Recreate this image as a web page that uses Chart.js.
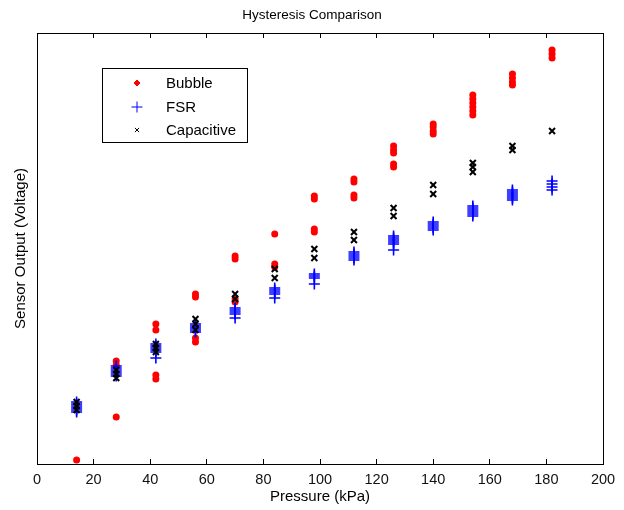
<!DOCTYPE html>
<html>
<head>
<meta charset="utf-8">
<script src="https://cdn.jsdelivr.net/npm/chart.js@4/dist/chart.umd.min.js"></script>
<style>
  html, body { margin: 0; padding: 0; background: #fff; overflow: hidden; }
  #wrap { width: 624px; height: 510px; }
  canvas { display: block; }
</style>
</head>
<body>
<div id="wrap"><canvas id="hyst"></canvas></div>
<script>
// pressure steps (kPa)
const pressures = [14, 28, 42, 56, 70, 84, 98, 112, 126, 140, 154, 168, 182];
const xTicks = [0, 20, 40, 60, 80, 100, 120, 140, 160, 180, 200];

// sensor output readings at each pressure step (loading + unloading)
const bubble = [
    [0.04],
    [0.47, 0.99, 1.03],
    [0.85, 0.89, 1.34, 1.40],
    [1.22, 1.26, 1.67, 1.70],
    [1.62, 1.65, 2.05, 2.08],
    [1.97, 2.00, 2.30],
    [2.32, 2.35, 2.65, 2.68],
    [2.66, 2.69, 2.82, 2.85],
    [2.97, 3.00, 3.11, 3.14, 3.18],
    [3.30, 3.33, 3.37, 3.40],
    [3.49, 3.53, 3.57, 3.61, 3.65, 3.69],
    [3.79, 3.82, 3.86, 3.90],
    [4.06, 4.10, 4.14]
];
const fsr = [
    [0.52, 0.54, 0.56, 0.58, 0.60, 0.62],
    [0.88, 0.90, 0.92, 0.94, 0.96, 0.98],
    [1.06, 1.12, 1.14, 1.16, 1.18, 1.20],
    [1.32, 1.34, 1.36, 1.38, 1.40],
    [1.46, 1.50, 1.52, 1.54, 1.56],
    [1.66, 1.70, 1.72, 1.74, 1.76],
    [1.80, 1.86, 1.88, 1.90],
    [2.04, 2.06, 2.08, 2.10, 2.12],
    [2.14, 2.20, 2.22, 2.24, 2.26, 2.28],
    [2.34, 2.36, 2.38, 2.40, 2.42],
    [2.48, 2.50, 2.52, 2.54, 2.56, 2.58],
    [2.64, 2.66, 2.68, 2.70, 2.72, 2.74],
    [2.74, 2.77, 2.80, 2.83]
];
const capacitive = [
    [0.54, 0.58, 0.62],
    [0.86, 0.90, 0.94],
    [1.12, 1.16, 1.20],
    [1.34, 1.40, 1.45],
    [1.65, 1.70],
    [1.86, 1.95],
    [2.06, 2.15],
    [2.24, 2.32],
    [2.48, 2.56],
    [2.70, 2.79],
    [2.92, 2.97, 3.01],
    [3.14, 3.18],
    [3.33]
];
const seriesNames = ['Bubble', 'FSR', 'Capacitive'];

const toPoints = readings => pressures.flatMap((p, i) => readings[i].map(v => ({ x: p, y: v })));

const FONT = "'Liberation Sans', Arial, sans-serif";

// matlab style legend box, top left inside the axes
const boxLegend = {
    id: 'boxLegend',
    afterDraw(chart) {
        const ctx = chart.ctx;
        const left = 102, top = 68, w = 145, h = 74;
        ctx.save();
        ctx.fillStyle = '#fff';
        ctx.fillRect(left, top, w, h);
        ctx.strokeStyle = '#000';
        ctx.lineWidth = 1;
        ctx.strokeRect(left + 0.5, top + 0.5, w, h);
        const rows = [83, 107, 130];
        const looks = [
            { pointStyle: 'rectRot', radius: 3, borderWidth: 1 },
            { pointStyle: 'cross', radius: 5.5, borderWidth: 1.3 },
            { pointStyle: 'crossRot', radius: 3, borderWidth: 1 }
        ];
        chart.data.datasets.forEach((ds, i) => {
            ctx.fillStyle = ds.backgroundColor;
            ctx.strokeStyle = ds.borderColor;
            Chart.helpers.drawPoint(ctx, looks[i], 137, rows[i]);
            ctx.fillStyle = '#000';
            ctx.font = '15px ' + FONT;
            ctx.textBaseline = 'middle';
            ctx.fillText(ds.label, 166, rows[i] + 1);
        });
        ctx.restore();
    }
};

const noSidePad = s => { s.paddingLeft = 0; s.paddingRight = 0; };

new Chart(document.getElementById('hyst'), {
    type: 'scatter',
    data: {
        datasets: [
            {
                label: seriesNames[0],
                data: toPoints(bubble),
                pointStyle: 'circle',
                pointRadius: 3.5,
                backgroundColor: '#ff0000',
                borderColor: '#ff0000',
                borderWidth: 0,
                order: 3
            },
            {
                label: seriesNames[1],
                data: toPoints(fsr),
                pointStyle: 'cross',
                pointRadius: 5.5,
                backgroundColor: '#0000ff',
                borderColor: '#0000ff',
                borderWidth: 1.6,
                order: 2
            },
            {
                label: seriesNames[2],
                data: toPoints(capacitive),
                pointStyle: 'crossRot',
                pointRadius: 4.2,
                backgroundColor: '#000',
                borderColor: '#000',
                borderWidth: 2,
                order: 1
            }
        ]
    },
    options: {
        responsive: true,
        maintainAspectRatio: false,
        animation: false,
        clip: false,
        plugins: {
            legend: { display: false },
            tooltip: { enabled: false },
            title: {
                display: true,
                text: 'Hysteresis Comparison',
                color: '#000',
                font: { family: FONT, size: 13.5, weight: 'normal' },
                padding: { top: 7, bottom: 9.8 }
            }
        },
        scales: {
            x: {
                type: 'linear',
                position: 'bottom',
                min: 0,
                max: 200,
                afterBuildTicks: s => { s.ticks = xTicks.map(v => ({ value: v })); },
                afterFit: s => { s.height = 46; noSidePad(s); },
                border: { color: '#000', width: 1 },
                grid: { drawOnChartArea: false, tickLength: -5, color: '#000' },
                ticks: { color: '#111', padding: 12, font: { family: FONT, size: 14.5 } },
                title: {
                    display: true,
                    text: 'Pressure (kPa)',
                    color: '#000',
                    font: { family: FONT, size: 15 },
                    padding: { top: 0, bottom: 4 }
                }
            },
            xTop: {
                type: 'linear',
                position: 'top',
                min: 0,
                max: 200,
                afterBuildTicks: s => { s.ticks = xTicks.map(v => ({ value: v })); },
                afterFit: s => { s.height = 0; noSidePad(s); },
                border: { color: '#000', width: 1 },
                grid: { drawOnChartArea: false, tickLength: -5, color: '#000' },
                ticks: { display: false }
            },
            y: {
                type: 'linear',
                position: 'left',
                min: 0,
                max: 4.31,
                afterFit: s => { s.width = 37; },
                border: { color: '#000', width: 1 },
                grid: { display: false },
                ticks: { display: false },
                title: {
                    display: true,
                    text: 'Sensor Output (Voltage)',
                    color: '#000',
                    font: { family: FONT, size: 15 },
                    padding: { top: 12 }
                }
            },
            yRight: {
                type: 'linear',
                position: 'right',
                min: 0,
                max: 4.31,
                afterFit: s => { s.width = 21; },
                border: { color: '#000', width: 1 },
                grid: { display: false },
                ticks: { display: false }
            }
        }
    },
    plugins: [boxLegend]
});
</script>
</body>
</html>
